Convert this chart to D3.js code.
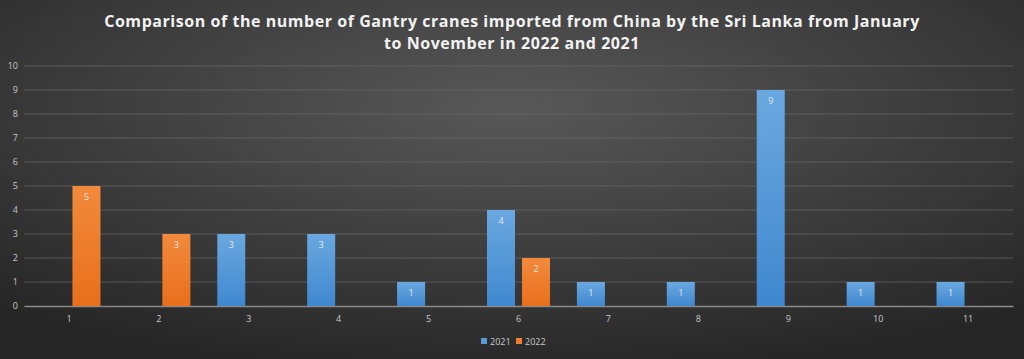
<!DOCTYPE html>
<html><head><meta charset="utf-8">
<script src="https://cdn.jsdelivr.net/npm/d3@7"></script>
<style>html,body{margin:0;padding:0;background:#2e2e2e;overflow:hidden}</style>
</head><body>
<svg id="c" width="1024" height="359"></svg>
<script>
const months = ["1","2","3","4","5","6","7","8","9","10","11"];
const series = ["2021","2022"];
const values2021 = [0,0,3,3,1,4,1,1,9,1,1];
const values2022 = [5,3,0,0,0,2,0,0,0,0,0];
const yTicks = [0,1,2,3,4,5,6,7,8,9,10];
const titleLines = ["Comparison of the number of Gantry cranes imported from China by the Sri Lanka from January","to November in 2022 and 2021"];

const W = 1024, H = 359;
const svg = d3.select("#c");
const defs = svg.append("defs");
const bg = defs.append("radialGradient").attr("id","bg").attr("cx","50%").attr("cy","30%").attr("r","75%");
bg.append("stop").attr("offset","0%").attr("stop-color","#585858");
bg.append("stop").attr("offset","100%").attr("stop-color","#262626");
const gb = defs.append("linearGradient").attr("id","gBlue").attr("x1",0).attr("y1",0).attr("x2",0).attr("y2",1);
gb.append("stop").attr("offset","0%").attr("stop-color","#6aa8e0");
gb.append("stop").attr("offset","100%").attr("stop-color","#3f88cf");
const go = defs.append("linearGradient").attr("id","gOrange").attr("x1",0).attr("y1",0).attr("x2",0).attr("y2",1);
go.append("stop").attr("offset","0%").attr("stop-color","#f28a3c");
go.append("stop").attr("offset","100%").attr("stop-color","#e86f1c");
const fills = {"2021":"url(#gBlue)","2022":"url(#gOrange)"};
const legendColors = {"2021":"#5b9bd5","2022":"#ed7d31"};

svg.append("rect").attr("width",W).attr("height",H).attr("fill","url(#bg)");

const pLeft = 24, pRight = 1013, pTop = 66, pBottom = 306;
const x = d3.scaleBand().domain(months).range([pLeft,pRight]).paddingInner(0).paddingOuter(0);
const y = d3.scaleLinear().domain([0,10]).range([pBottom,pTop]);

// gridlines
svg.append("g").selectAll("line").data(yTicks.filter(d=>d>0)).join("line")
  .attr("x1",pLeft).attr("x2",pRight).attr("y1",d=>y(d)).attr("y2",d=>y(d))
  .attr("stroke","#6a6a6a").attr("stroke-width",1).attr("opacity",0.7);

// y axis labels
const yAxis = d3.axisLeft(y).tickValues(yTicks).tickSize(0).tickPadding(6);
const ya = svg.append("g").attr("transform",`translate(${pLeft},0)`).call(yAxis);
ya.select(".domain").remove();
ya.selectAll("text").attr("fill","#c8c8c8").attr("font-family","Open Sans, sans-serif").attr("font-size",9);

// x axis
const xAxis = d3.axisBottom(x).tickSize(0).tickPadding(10);
const xa = svg.append("g").attr("transform",`translate(0,${pBottom})`).call(xAxis);
xa.select(".domain").attr("stroke","#8a8a8a").attr("stroke-width",1.5);
xa.selectAll("text").attr("fill","#c8c8c8").attr("font-family","Open Sans, sans-serif").attr("font-size",9);

// bars
const barW = 28, gap = 3.5;
const data = [];
months.forEach((m,i)=>{
  data.push({m, s:"2021", v:values2021[i]});
  data.push({m, s:"2022", v:values2022[i]});
});
const bars = data.filter(d=>d.v>0);
const cx = d => x(d.m) + x.bandwidth()/2;
const bx = d => d.s==="2021" ? cx(d)-gap-barW : cx(d)+gap;
svg.append("g").selectAll("rect").data(bars).join("rect")
  .attr("x",bx).attr("width",barW)
  .attr("y",d=>y(d.v)).attr("height",d=>y(0)-y(d.v))
  .attr("fill",d=>fills[d.s]);
svg.append("g").selectAll("text").data(bars).join("text")
  .attr("x",d=>bx(d)+barW/2).attr("y",d=>y(d.v)+14)
  .attr("text-anchor","middle").attr("fill","#e6e6e6")
  .attr("font-family","Open Sans, sans-serif").attr("font-size",9)
  .text(d=>d.v);

// title
svg.append("g").selectAll("text").data(titleLines).join("text")
  .attr("x",W/2).attr("y",(d,i)=>27+i*22).attr("text-anchor","middle")
  .attr("fill","#f2f2f2").attr("font-family","Open Sans, sans-serif")
  .attr("font-weight","bold").attr("font-size",16).attr("letter-spacing",0.55)
  .text(d=>d);

// legend
const lg = svg.append("g").attr("transform","translate(481,342)");
series.forEach((s,i)=>{
  const g = lg.append("g").attr("transform",`translate(${i*35},0)`);
  g.append("rect").attr("x",0).attr("y",-4).attr("width",6).attr("height",6).attr("fill",legendColors[s]);
  g.append("text").attr("x",9).attr("y",2.5).attr("fill","#c8c8c8")
    .attr("font-family","Open Sans, sans-serif").attr("font-size",9).text(s);
});
</script>
</body></html>
